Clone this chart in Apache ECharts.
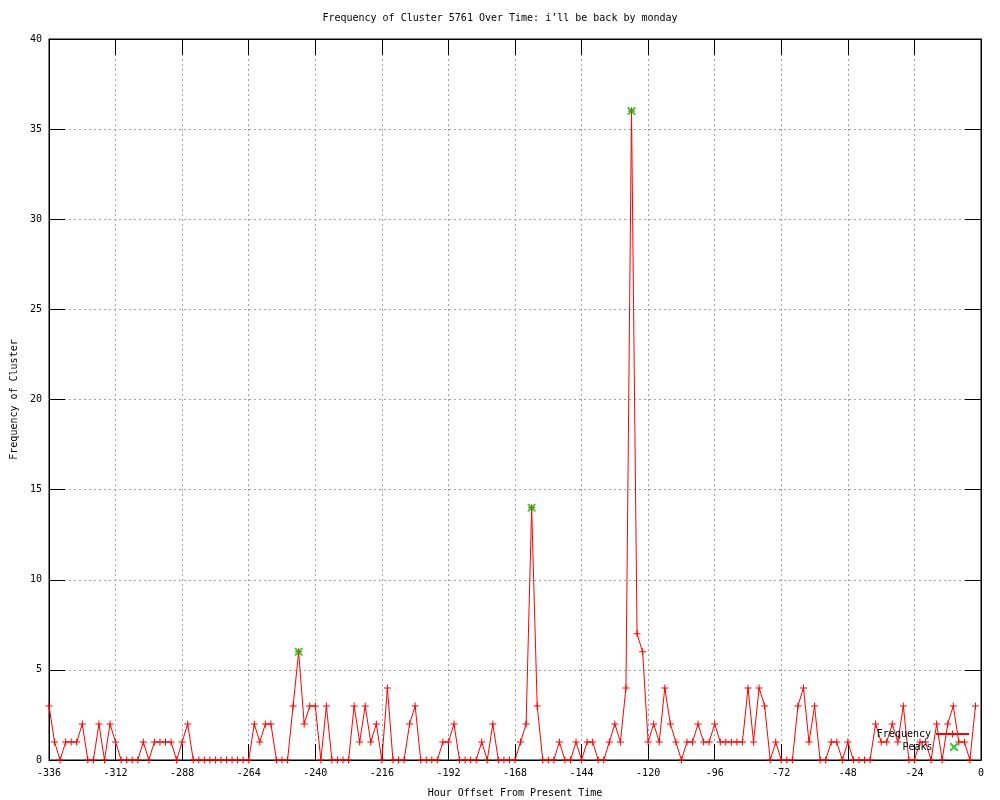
<!DOCTYPE html>
<html>
<head>
<meta charset="utf-8">
<script src="https://cdn.jsdelivr.net/npm/echarts@6/dist/echarts.min.js"></script>
<style>
  html, body { margin: 0; padding: 0; background: #fff; }
  #chart { width: 1000px; height: 800px; }
</style>
</head>
<body>
<div id="chart"></div>
<script>
// hours run from -336 in steps of 2 (last sample at -2)
const startHour = -336;
const stepHours = 2;
const frequency = [
  3, 1, 0, 1, 1, 1, 2, 0, 0, 2, 0, 2,
  1, 0, 0, 0, 0, 1, 0, 1, 1, 1, 1, 0,
  1, 2, 0, 0, 0, 0, 0, 0, 0, 0, 0, 0,
  0, 2, 1, 2, 2, 0, 0, 0, 3, 6, 2, 3,
  3, 0, 3, 0, 0, 0, 0, 3, 1, 3, 1, 2,
  0, 4, 0, 0, 0, 2, 3, 0, 0, 0, 0, 1,
  1, 2, 0, 0, 0, 0, 1, 0, 2, 0, 0, 0,
  0, 1, 2, 14, 3, 0, 0, 0, 1, 0, 0, 1,
  0, 1, 1, 0, 0, 1, 2, 1, 4, 36, 7, 6,
  1, 2, 1, 4, 2, 1, 0, 1, 1, 2, 1, 1,
  2, 1, 1, 1, 1, 1, 4, 1, 4, 3, 0, 1,
  0, 0, 0, 3, 4, 1, 3, 0, 0, 1, 1, 0,
  1, 0, 0, 0, 0, 2, 1, 1, 2, 1, 3, 0,
  0, 1, 1, 0, 2, 0, 2, 3, 1, 1, 0, 3
];
const peakHours = [-246, -162, -126];
const peakValues = [6, 14, 36];

const FONT = "DejaVu Sans Mono";
const plusPath = "path://M3,0h1v3h3v1h-3v3h-1v-3h-3v-1h3z";
const crossPath = "path://M0,0h1.4l6.6,6.6v1.4h-1.4l-6.6,-6.6z M6.6,0h1.4v1.4l-6.6,6.6h-1.4v-1.4z";

const freqData = frequency.map((v, i) => [startHour + i * stepHours, v]);
const peakData = peakHours.map((h, i) => [h, peakValues[i]]);

const txt = { fontFamily: FONT, fontSize: 10, color: "#000" };

const chart = echarts.init(document.getElementById("chart"));
chart.setOption({
  animation: false,
  title: {
    text: "Frequency of Cluster 5761 Over Time: i\u2019ll be back by monday",
    left: "center",
    top: 13,
    padding: 0,
    textStyle: Object.assign({ fontWeight: "normal" }, txt)
  },
  legend: [
    {
      data: ["Frequency"],
      right: 30, top: 729, padding: 0,
      align: "right",
      itemWidth: 33, itemHeight: 9,
      selectedMode: false,
      textStyle: txt
    },
    {
      data: [{ name: "Peaks", icon: crossPath }],
      right: 42, top: 742, padding: 0,
      align: "right",
      itemWidth: 33, itemHeight: 8,
      selectedMode: false,
      textStyle: txt
    }
  ],
  grid: {
    left: 49, right: 19, top: 39, bottom: 40,
    outerBoundsMode: "none",
    show: true, borderColor: "#000", borderWidth: 1
  },
  xAxis: [
    {
      type: "value", min: -336, max: 0, interval: 24,
      name: "Hour Offset From Present Time",
      nameLocation: "middle", nameGap: 28,
      nameTextStyle: txt,
      axisLine: { show: true, onZero: false, lineStyle: { color: "#000" } },
      axisTick: { inside: true, length: 16, lineStyle: { color: "#000" } },
      axisLabel: Object.assign({ margin: 8 }, txt),
      splitLine: { show: true, lineStyle: { color: "#a0a0a0", type: [2, 3] } }
    },
    {
      type: "value", position: "top", min: -336, max: 0, interval: 24,
      axisLine: { show: true, onZero: false, lineStyle: { color: "#000" } },
      axisTick: { inside: true, length: 16, lineStyle: { color: "#000" } },
      axisLabel: { show: false },
      splitLine: { show: false }
    }
  ],
  yAxis: [
    {
      type: "value", min: 0, max: 40, interval: 5,
      name: "Frequency of Cluster",
      nameLocation: "middle", nameGap: 30, nameRotate: 90,
      nameTextStyle: txt,
      axisLine: { show: true, onZero: false, lineStyle: { color: "#000" } },
      axisTick: { show: true, inside: true, length: 16, lineStyle: { color: "#000" } },
      axisLabel: Object.assign({ margin: 7 }, txt),
      splitLine: { show: true, lineStyle: { color: "#a0a0a0", type: [2, 3] } }
    },
    {
      type: "value", position: "right", min: 0, max: 40, interval: 5,
      axisLine: { show: true, onZero: false, lineStyle: { color: "#000" } },
      axisTick: { show: true, inside: true, length: 16, lineStyle: { color: "#000" } },
      axisLabel: { show: false },
      splitLine: { show: false }
    }
  ],
  series: [
    {
      name: "Frequency",
      type: "line",
      data: freqData,
      symbol: plusPath,
      symbolSize: 7,
      showAllSymbol: true,
      color: "#ff0000",
      lineStyle: { color: "#ff0000", width: 1 },
      itemStyle: { color: "#ff0000" },
      emphasis: { disabled: true },
      z: 2
    },
    {
      name: "Peaks",
      type: "scatter",
      data: peakData,
      symbol: crossPath,
      symbolSize: 8,
      color: "#00c000",
      itemStyle: { color: "#00c000" },
      emphasis: { disabled: true },
      z: 3
    }
  ]
});
</script>
</body>
</html>
